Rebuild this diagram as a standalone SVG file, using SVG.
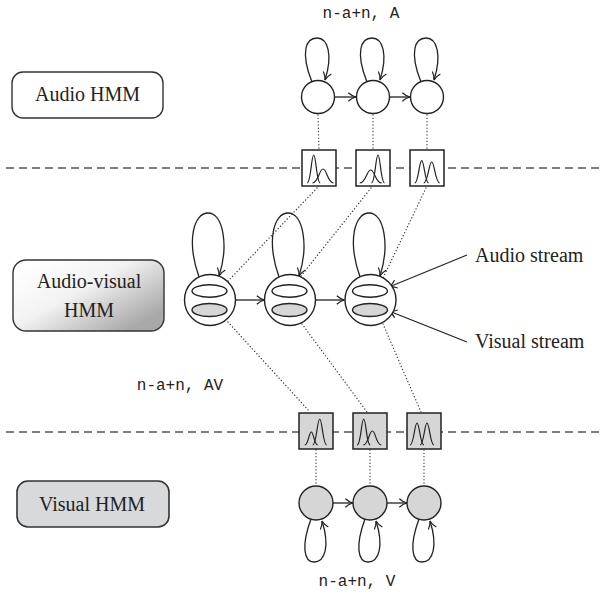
<svg xmlns="http://www.w3.org/2000/svg" width="600" height="596" viewBox="0 0 600 596">
<style>
.lbl{font-family:"Liberation Serif","Times New Roman",serif;font-size:20px;fill:#222}
.mono{font-family:"Liberation Mono","Courier New",monospace;font-size:16px;fill:#222}
.st{fill:#fff;stroke:#222;stroke-width:1.4}
.stg{fill:#d6d6d6;stroke:#222;stroke-width:1.4}
.ln{fill:none;stroke:#222;stroke-width:1.3}
.dot{fill:none;stroke:#333;stroke-width:1.3;stroke-dasharray:0.1 3.2;stroke-linecap:round}
.dash{stroke:#555;stroke-width:1.6;stroke-dasharray:8 5}
.box{fill:#fff;stroke:#222;stroke-width:1.5}
.boxg{fill:#d6d6d6;stroke:#222;stroke-width:1.5}
.g{fill:none;stroke:#222;stroke-width:1.2}
</style>
<defs>
<marker id="arr" viewBox="0 0 10 10" refX="9.2" refY="5" markerWidth="10" markerHeight="10" markerUnits="userSpaceOnUse" orient="auto">
<path d="M1.5,0.8 Q5,4 9.2,5 Q5,6 1.5,9.2" fill="none" stroke="#222" stroke-width="1.2"/>
</marker>
<linearGradient id="avg" x1="0.15" y1="0" x2="1" y2="0.7">
<stop offset="0" stop-color="#ffffff"/>
<stop offset="0.45" stop-color="#f2f2f2"/>
<stop offset="1" stop-color="#a9a9a9"/>
</linearGradient>
</defs>

<!-- dashed separators -->
<line class="dash" x1="6" y1="168" x2="600" y2="168"/>
<line class="dash" x1="6" y1="432" x2="600" y2="432"/>

<!-- labels -->
<text class="mono" x="361" y="18" text-anchor="middle">n-a+n, A</text>
<text class="mono" x="180" y="390" text-anchor="middle">n-a+n, AV</text>
<text class="mono" x="357" y="586" text-anchor="middle">n-a+n, V</text>

<g id="audio-hmm-label">
<rect x="12" y="72" width="151" height="46" rx="11" fill="#fff" stroke="#333" stroke-width="1.4"/>
<text class="lbl" x="87.5" y="101" text-anchor="middle">Audio HMM</text>
</g>
<g id="av-hmm-label">
<rect x="13" y="260" width="151" height="71" rx="13" fill="url(#avg)" stroke="#333" stroke-width="1.4"/>
<text class="lbl" x="89" y="288" text-anchor="middle">Audio-visual</text>
<text class="lbl" x="89" y="317" text-anchor="middle">HMM</text>
</g>
<g id="visual-hmm-label">
<rect x="17" y="481" width="152" height="46" rx="11" fill="#d8d9da" stroke="#333" stroke-width="1.6"/>
<text class="lbl" x="92" y="511" text-anchor="middle">Visual HMM</text>
</g>

<!-- connectors -->
<g id="connectors">
<!-- audio self loops -->
<path class="ln" marker-end="url(#arr)" d="M312,82 C300,52 306,38 317,38 C328,38 333,55 325,80"/>
<path class="ln" marker-end="url(#arr)" d="M367,82 C355,52 361,38 372,38 C383,38 388,55 380,80"/>
<path class="ln" marker-end="url(#arr)" d="M421,82 C409,52 415,38 426,38 C437,38 442,55 434,80"/>
<!-- audio transitions -->
<line class="ln" marker-end="url(#arr)" x1="334.5" y1="97" x2="356" y2="97"/>
<line class="ln" marker-end="url(#arr)" x1="389.5" y1="97" x2="410" y2="97"/>
<!-- AV self loops -->
<path class="ln" marker-end="url(#arr)" d="M199,277 C186,240 194,213 208,213 C223,213 229,245 219,276"/>
<path class="ln" marker-end="url(#arr)" d="M279,277 C266,240 274,213 288,213 C303,213 309,245 299,276"/>
<path class="ln" marker-end="url(#arr)" d="M360,277 C347,240 355,213 369,213 C384,213 390,245 380,276"/>
<!-- AV transitions -->
<line class="ln" marker-end="url(#arr)" x1="235.5" y1="300" x2="264.5" y2="300"/>
<line class="ln" marker-end="url(#arr)" x1="315.5" y1="300" x2="344.5" y2="300"/>
<!-- visual self loops -->
<path class="ln" marker-end="url(#arr)" d="M311,519 C301,546 304,562 314,562 C325,562 330,546 322,521"/>
<path class="ln" marker-end="url(#arr)" d="M365,519 C355,546 358,562 368,562 C379,562 384,546 376,521"/>
<path class="ln" marker-end="url(#arr)" d="M419,519 C409,546 412,562 422,562 C433,562 438,546 430,521"/>
<!-- visual transitions -->
<line class="ln" marker-end="url(#arr)" x1="333" y1="503" x2="353" y2="503"/>
<line class="ln" marker-end="url(#arr)" x1="387" y1="503" x2="407" y2="503"/>
<!-- stream pointers -->
<line class="ln" marker-end="url(#arr)" x1="467" y1="255" x2="389" y2="287"/>
<line class="ln" marker-end="url(#arr)" x1="467" y1="342" x2="389" y2="311"/>
<!-- dotted emission links -->
<line class="dot" x1="318" y1="115" x2="319" y2="150"/>
<line class="dot" x1="373" y1="115" x2="373" y2="150"/>
<line class="dot" x1="427" y1="115" x2="427" y2="150"/>
<line class="dot" x1="317" y1="188" x2="228" y2="281"/>
<line class="dot" x1="371" y1="188" x2="301" y2="276"/>
<line class="dot" x1="426" y1="188" x2="383" y2="278"/>
<line class="dot" x1="228" y1="322" x2="310" y2="412"/>
<line class="dot" x1="302" y1="324" x2="367" y2="412"/>
<line class="dot" x1="383" y1="324" x2="421" y2="412"/>
<line class="dot" x1="316" y1="450" x2="316" y2="486"/>
<line class="dot" x1="370" y1="450" x2="370" y2="486"/>
<line class="dot" x1="424" y1="450" x2="424" y2="486"/>
</g>

<!-- audio states -->
<g id="a1"><circle class="st" cx="318" cy="97" r="16.5"/></g>
<g id="a2"><circle class="st" cx="373" cy="97" r="16.5"/></g>
<g id="a3"><circle class="st" cx="427" cy="97" r="16.5"/></g>

<!-- audio emissions -->
<g id="ea1">
<rect class="box" x="302" y="150" width="34" height="36"/>
<path class="g" d="M307.2,183 C310.8,183 311.4,155 313.7,155 C316,155 316.6,183 320.2,183"/>
<path class="g" d="M312.5,183 C318.3,183 319.3,169 323,169 C326.7,169 327.7,183 333.5,183"/>
</g>
<g id="ea2">
<rect class="box" x="356" y="150" width="34" height="36"/>
<path class="g" d="M359.7,183 C365.8,183 366.8,170 370.7,170 C374.6,170 375.6,183 381.7,183"/>
<path class="g" d="M371.5,183 C375.1,183 375.7,155 378,155 C380.3,155 380.9,183 384.5,183"/>
</g>
<g id="ea3">
<rect class="box" x="410" y="150" width="34" height="36"/>
<path class="g" d="M414.7,183 C418.5,183 419.2,160.7 421.7,160.7 C424.2,160.7 424.9,183 428.7,183"/>
<path class="g" d="M423.7,183 C428.1,183 428.9,162 431.7,162 C434.5,162 435.3,183 439.7,183"/>
</g>

<!-- audio-visual states -->
<g id="av1">
<circle class="st" cx="210" cy="300" r="25.5"/>
<ellipse class="st" cx="209.5" cy="291" rx="17.5" ry="6.3"/>
<ellipse class="stg" cx="209.5" cy="310" rx="17.5" ry="6.5"/>
</g>
<g id="av2">
<circle class="st" cx="290" cy="300" r="25.5"/>
<ellipse class="st" cx="289.5" cy="291" rx="17.5" ry="6.3"/>
<ellipse class="stg" cx="289.5" cy="310" rx="17.5" ry="6.5"/>
</g>
<g id="av3">
<circle class="st" cx="370.5" cy="300" r="25.5"/>
<ellipse class="st" cx="370" cy="291" rx="17.5" ry="6.3"/>
<ellipse class="stg" cx="370" cy="310" rx="17.5" ry="6.5"/>
</g>

<g id="audio-stream-label"><text class="lbl" x="475" y="262">Audio stream</text></g>
<g id="visual-stream-label"><text class="lbl" x="475" y="348">Visual stream</text></g>

<!-- visual emissions -->
<g id="ev1">
<rect class="boxg" x="299" y="413" width="34" height="36"/>
<path class="g" d="M304.8,445 C308.4,445 309,432 311.3,432 C313.6,432 314.2,445 317.8,445"/>
<path class="g" d="M312.7,445 C316.5,445 317.2,419 319.7,419 C322.2,419 322.9,445 326.7,445"/>
</g>
<g id="ev2">
<rect class="boxg" x="353" y="413" width="34" height="36"/>
<path class="g" d="M357.2,445 C360.8,445 361.4,419 363.7,419 C366,419 366.6,445 370.2,445"/>
<path class="g" d="M363.3,445 C368.3,445 369.1,431 372.3,431 C375.5,431 376.3,445 381.3,445"/>
</g>
<g id="ev3">
<rect class="boxg" x="407" y="413" width="34" height="36"/>
<path class="g" d="M410,445 C413.9,445 414.6,423 417,423 C419.5,423 420.2,445 424,445"/>
<path class="g" d="M420,445 C423.9,445 424.6,423 427,423 C429.5,423 430.2,445 434,445"/>
</g>

<!-- visual states -->
<g id="v1"><circle class="stg" cx="316" cy="503" r="17"/></g>
<g id="v2"><circle class="stg" cx="370" cy="503" r="17"/></g>
<g id="v3"><circle class="stg" cx="424" cy="503" r="17"/></g>
</svg>
